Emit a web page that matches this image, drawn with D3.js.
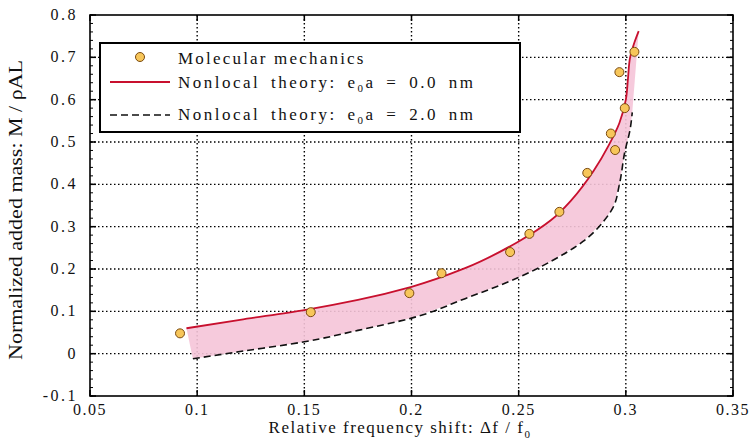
<!DOCTYPE html>
<html>
<head>
<meta charset="utf-8">
<script src="https://cdn.jsdelivr.net/npm/d3@7"></script>
<style>
  body { margin: 0; background: #fff; }
  svg text { font-family: "Liberation Serif", "Times New Roman", Times, serif; fill: #111; }
</style>
</head>
<body>
<svg id="chart" width="753" height="440"></svg>
<script>
// molecular mechanics points
const mmX = [0.092, 0.153, 0.199, 0.214, 0.246, 0.255, 0.269, 0.282, 0.293, 0.295, 0.2995, 0.297, 0.304];
const mmY = [0.048, 0.098, 0.143, 0.190, 0.240, 0.283, 0.335, 0.427, 0.520, 0.481, 0.580, 0.665, 0.713];

// nonlocal theory, e0a = 0.0 nm
const localX = [0.095, 0.12, 0.15, 0.175, 0.2, 0.225, 0.25, 0.265, 0.275, 0.285, 0.292, 0.297, 0.3, 0.301, 0.302, 0.304, 0.306];
const localY = [0.06, 0.08, 0.103, 0.127, 0.158, 0.202, 0.265, 0.315, 0.365, 0.432, 0.492, 0.545, 0.6, 0.65, 0.7, 0.735, 0.762];

// nonlocal theory, e0a = 2.0 nm
const nonlocX = [0.098, 0.12, 0.15, 0.175, 0.2, 0.225, 0.25, 0.265, 0.28, 0.29, 0.294, 0.297, 0.2995, 0.302, 0.303];
const nonlocY = [-0.012, 0.005, 0.028, 0.055, 0.084, 0.13, 0.18, 0.218, 0.265, 0.315, 0.345, 0.4, 0.476, 0.53, 0.57];

const xTicks = [0.05, 0.1, 0.15, 0.2, 0.25, 0.3, 0.35];
const yTicks = [-0.1, 0, 0.1, 0.2, 0.3, 0.4, 0.5, 0.6, 0.7, 0.8];
const xTickLabels = ["0.05", "0.1", "0.15", "0.2", "0.25", "0.3", "0.35"];
const yTickLabels = ["-0.1", "0", "0.1", "0.2", "0.3", "0.4", "0.5", "0.6", "0.7", "0.8"];

const svg = d3.select("#chart");
const pLeft = 90, pRight = 733, pTop = 15, pBottom = 396;

const x = d3.scaleLinear().domain([0.05, 0.35]).range([pLeft, pRight]);
const y = d3.scaleLinear().domain([-0.1, 0.8]).range([pBottom, pTop]);

// grid (matlab style dotted)
const grid = svg.append("g");
xTicks.slice(1, -1).forEach(t => {
  grid.append("line")
    .attr("x1", x(t)).attr("x2", x(t)).attr("y1", pTop).attr("y2", pBottom)
    .attr("stroke", "#000").attr("stroke-width", 1.4).attr("stroke-dasharray", "1.5,2.5");
});
yTicks.slice(1, -1).forEach(t => {
  grid.append("line")
    .attr("x1", pLeft).attr("x2", pRight).attr("y1", y(t)).attr("y2", y(t))
    .attr("stroke", "#000").attr("stroke-width", 1.4).attr("stroke-dasharray", "1.5,2.5");
});

// band between the two curves
const local = localX.map((v, i) => [v, localY[i]]);
const nonloc = nonlocX.map((v, i) => [v, nonlocY[i]]);
const band = local.concat(nonloc.slice().reverse());
svg.append("path")
  .datum(band)
  .attr("d", d3.line().x(d => x(d[0])).y(d => y(d[1])))
  .attr("fill", "#f5c4d8")
  .attr("opacity", 0.9)
  .attr("stroke", "none");

const lineGen = d3.line().x(d => x(d[0])).y(d => y(d[1])).curve(d3.curveMonotoneY);

svg.append("path")
  .datum(nonloc)
  .attr("d", lineGen)
  .attr("fill", "none")
  .attr("stroke", "#111")
  .attr("stroke-width", 1.6)
  .attr("stroke-dasharray", "7,4");

svg.append("path")
  .datum(local)
  .attr("d", lineGen)
  .attr("fill", "none")
  .attr("stroke", "#c8102e")
  .attr("stroke-width", 1.8);

// markers
svg.append("g").selectAll("circle")
  .data(mmX.map((v, i) => [v, mmY[i]]))
  .join("circle")
  .attr("cx", d => x(d[0]))
  .attr("cy", d => y(d[1]))
  .attr("r", 4.5)
  .attr("fill", "#f7c65a")
  .attr("stroke", "#7a4a10")
  .attr("stroke-width", 1);

// axes box
svg.append("rect")
  .attr("x", pLeft).attr("y", pTop)
  .attr("width", pRight - pLeft).attr("height", pBottom - pTop)
  .attr("fill", "none").attr("stroke", "#000").attr("stroke-width", 1.6);

const axes = svg.append("g");
// major ticks, inward on all sides
xTicks.forEach(t => {
  axes.append("line").attr("x1", x(t)).attr("x2", x(t)).attr("y1", pBottom).attr("y2", pBottom - 6).attr("stroke", "#000").attr("stroke-width", 1.5);
  axes.append("line").attr("x1", x(t)).attr("x2", x(t)).attr("y1", pTop).attr("y2", pTop + 6).attr("stroke", "#000").attr("stroke-width", 1.5);
});
yTicks.forEach(t => {
  axes.append("line").attr("x1", pLeft).attr("x2", pLeft + 6).attr("y1", y(t)).attr("y2", y(t)).attr("stroke", "#000").attr("stroke-width", 1.5);
  axes.append("line").attr("x1", pRight).attr("x2", pRight - 6).attr("y1", y(t)).attr("y2", y(t)).attr("stroke", "#000").attr("stroke-width", 1.5);
});
// minor ticks on y
d3.range(-0.1, 0.8001, 0.02).forEach(t => {
  axes.append("line").attr("x1", pLeft).attr("x2", pLeft + 3).attr("y1", y(t)).attr("y2", y(t)).attr("stroke", "#000").attr("stroke-width", 1);
  axes.append("line").attr("x1", pRight).attr("x2", pRight - 3).attr("y1", y(t)).attr("y2", y(t)).attr("stroke", "#000").attr("stroke-width", 1);
});

// tick labels
xTicks.forEach((t, i) => {
  svg.append("text")
    .attr("x", x(t)).attr("y", pBottom + 19)
    .attr("text-anchor", "middle")
    .style("font-size", "16px")
    .style("letter-spacing", "1.5px")
    .text(xTickLabels[i]);
});
yTicks.forEach((t, i) => {
  svg.append("text")
    .attr("x", pLeft - 12).attr("y", y(t) + 5)
    .attr("text-anchor", "end")
    .style("font-size", "16px")
    .style("letter-spacing", "2.5px")
    .text(yTickLabels[i]);
});

// axis titles
const xt = svg.append("text")
  .attr("x", 400).attr("y", 433)
  .attr("text-anchor", "middle")
  .style("font-size", "17px")
  .style("letter-spacing", "1.5px");
xt.append("tspan").text("Relative frequency shift: Δf / f");
xt.append("tspan").attr("dy", 5).style("font-size", "11px").text("0");

svg.append("text")
  .attr("transform", "translate(22,210) rotate(-90)")
  .attr("text-anchor", "middle")
  .attr("textLength", 300)
  .attr("lengthAdjust", "spacingAndGlyphs")
  .style("font-size", "18px")
  .text("Normalized added mass: M / ρAL");

// legend
const lg = svg.append("g");
lg.append("rect")
  .attr("x", 100).attr("y", 43).attr("width", 420).attr("height", 89)
  .attr("fill", "#fff").attr("stroke", "#000").attr("stroke-width", 2);

lg.append("circle").attr("cx", 140).attr("cy", 57).attr("r", 4.5)
  .attr("fill", "#f7c65a").attr("stroke", "#7a4a10").attr("stroke-width", 1);
lg.append("text").attr("x", 178).attr("y", 64).style("font-size", "17px").style("letter-spacing", "2.2px")
  .text("Molecular mechanics");

lg.append("line").attr("x1", 110).attr("x2", 170).attr("y1", 82).attr("y2", 82)
  .attr("stroke", "#c8102e").attr("stroke-width", 1.8);
const t2 = lg.append("text").attr("x", 178).attr("y", 88).style("font-size", "17px")
  .style("letter-spacing", "2.5px").style("word-spacing", "4px");
t2.append("tspan").text("Nonlocal theory: e");
t2.append("tspan").attr("dy", 4).style("font-size", "11px").text("0");
t2.append("tspan").attr("dy", -4).text("a = 0.0 nm");

lg.append("line").attr("x1", 110).attr("x2", 170).attr("y1", 115).attr("y2", 115)
  .attr("stroke", "#111").attr("stroke-width", 1.6).attr("stroke-dasharray", "7,4");
const t3 = lg.append("text").attr("x", 178).attr("y", 120).style("font-size", "17px")
  .style("letter-spacing", "2.5px").style("word-spacing", "4px");
t3.append("tspan").text("Nonlocal theory: e");
t3.append("tspan").attr("dy", 4).style("font-size", "11px").text("0");
t3.append("tspan").attr("dy", -4).text("a = 2.0 nm");
</script>
</body>
</html>
